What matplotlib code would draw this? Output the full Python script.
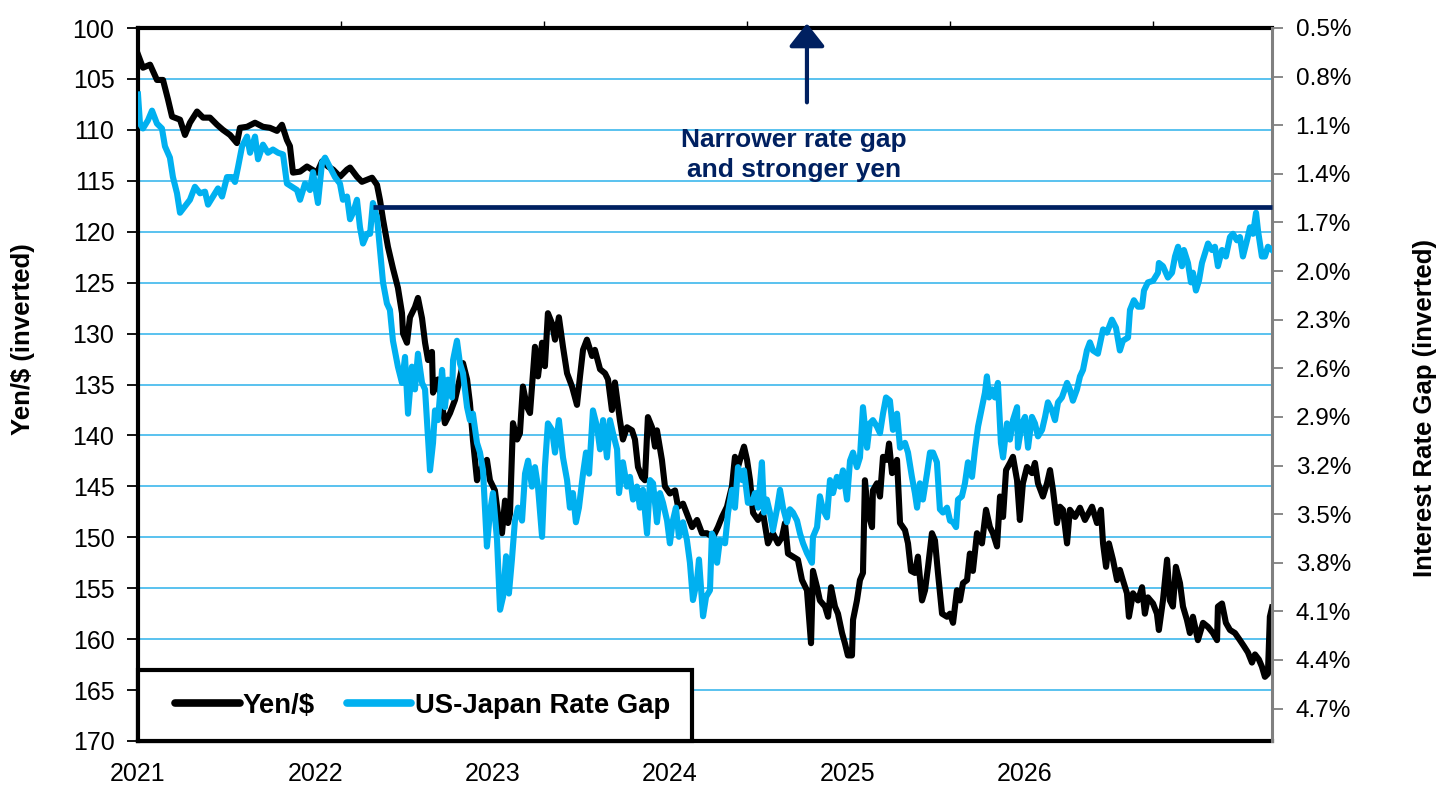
import numpy as np
import matplotlib
matplotlib.use('Agg')
import matplotlib.pyplot as plt
from matplotlib.ticker import FixedLocator, FuncFormatter
from matplotlib.lines import Line2D
from matplotlib.patches import Rectangle

plt.rcParams['font.family'] = ['Liberation Sans', 'DejaVu Sans']

# ---------------- data (decimal years) ----------------
yen_t = [2021.000, 2021.028, 2021.068, 2021.107, 2021.141, 2021.169, 2021.192, 2021.237, 2021.265, 2021.293,
         2021.333, 2021.367, 2021.406, 2021.446, 2021.479, 2021.519, 2021.558, 2021.575, 2021.615, 2021.660,
         2021.705, 2021.744, 2021.784, 2021.812, 2021.840, 2021.857, 2021.874, 2021.914, 2021.953, 2021.981,
         2022.010, 2022.038, 2022.072, 2022.100, 2022.139, 2022.179, 2022.196, 2022.235, 2022.263, 2022.292,
         2022.320, 2022.348, 2022.365, 2022.382, 2022.410, 2022.438, 2022.466, 2022.489, 2022.495, 2022.517,
         2022.534, 2022.562, 2022.579, 2022.602, 2022.619, 2022.636, 2022.658, 2022.664, 2022.692, 2022.731,
         2022.760, 2022.788, 2022.805, 2022.833, 2022.856, 2022.872, 2022.889, 2022.912, 2022.940, 2022.968,
         2022.985, 2023.013, 2023.030, 2023.053, 2023.070, 2023.087, 2023.098, 2023.115, 2023.138, 2023.154,
         2023.171, 2023.194, 2023.211, 2023.239, 2023.256, 2023.279, 2023.295, 2023.312, 2023.335, 2023.352,
         2023.374, 2023.397, 2023.420, 2023.448, 2023.476, 2023.493, 2023.510, 2023.532, 2023.561, 2023.577,
         2023.606, 2023.634, 2023.651, 2023.673, 2023.690, 2023.718, 2023.735, 2023.758, 2023.786, 2023.803,
         2023.820, 2023.843, 2023.859, 2023.876, 2023.899, 2023.916, 2023.927, 2023.955, 2023.972, 2024.000,
         2024.029, 2024.046, 2024.074, 2024.096, 2024.125, 2024.153, 2024.181, 2024.209, 2024.243, 2024.271,
         2024.294, 2024.322, 2024.350, 2024.367, 2024.384, 2024.407, 2024.418, 2024.435, 2024.452, 2024.469,
         2024.497, 2024.525, 2024.553, 2024.581, 2024.610, 2024.632, 2024.649, 2024.666, 2024.694, 2024.722,
         2024.745, 2024.773, 2024.796, 2024.807, 2024.830, 2024.846, 2024.875, 2024.892, 2024.909, 2024.931,
         2024.948, 2024.971, 2024.987, 2025.004, 2025.027, 2025.033, 2025.055, 2025.072, 2025.089, 2025.100,
         2025.117, 2025.140, 2025.145, 2025.168, 2025.185, 2025.202, 2025.224, 2025.236, 2025.253, 2025.281,
         2025.298, 2025.326, 2025.343, 2025.360, 2025.382, 2025.399, 2025.422, 2025.439, 2025.456, 2025.478,
         2025.495, 2025.512, 2025.535, 2025.563, 2025.580, 2025.597, 2025.619, 2025.636, 2025.653, 2025.676,
         2025.692, 2025.709, 2025.732, 2025.760, 2025.783, 2025.805, 2025.822, 2025.845, 2025.862, 2025.879,
         2025.896, 2025.918, 2025.935, 2025.958, 2025.974, 2025.991, 2026.014, 2026.042, 2026.059, 2026.076,
         2026.104, 2026.127, 2026.144, 2026.161, 2026.183, 2026.200, 2026.217, 2026.240, 2026.256, 2026.285,
         2026.313, 2026.341, 2026.381, 2026.409, 2026.431, 2026.443, 2026.460, 2026.476, 2026.499, 2026.522,
         2026.538, 2026.555, 2026.578, 2026.589, 2026.612, 2026.640, 2026.663, 2026.679, 2026.696, 2026.725,
         2026.747, 2026.758, 2026.781, 2026.804, 2026.820, 2026.837, 2026.854, 2026.877, 2026.894, 2026.916,
         2026.933, 2026.950, 2026.978, 2027.007, 2027.035, 2027.063, 2027.086, 2027.091, 2027.114, 2027.136,
         2027.159, 2027.187, 2027.215, 2027.238, 2027.260, 2027.283, 2027.300, 2027.322, 2027.339, 2027.356,
         2027.373, 2027.384, 2027.396]
yen_v = [102.6, 103.9, 103.6, 105.1, 105.1, 107.0, 108.7, 109.0, 110.5, 109.3,
         108.2, 108.8, 108.8, 109.5, 110.0, 110.5, 111.3, 109.8, 109.7, 109.3,
         109.7, 109.8, 110.1, 109.5, 111.0, 111.6, 114.2, 114.1, 113.6, 113.9,
         114.2, 113.1, 113.6, 113.9, 114.6, 113.9, 113.7, 114.6, 115.1, 114.9,
         114.7, 115.4, 116.9, 118.8, 121.5, 123.6, 125.5, 128.0, 130.0, 130.9,
         128.4, 127.4, 126.5, 128.5, 130.9, 132.6, 131.8, 135.8, 134.5, 138.8,
         137.8, 136.5, 135.2, 132.9, 134.5, 136.8, 140.4, 144.4, 143.1, 142.4,
         144.4, 145.4, 147.7, 149.6, 146.4, 148.6, 147.7, 138.8, 140.4, 139.8,
         135.2, 137.2, 137.8, 131.3, 134.2, 130.9, 133.2, 128.0, 129.0, 130.6,
         128.4, 131.3, 133.9, 135.2, 137.0, 134.2, 131.6, 130.6, 132.2, 131.6,
         133.5, 133.9, 134.5, 137.5, 134.8, 138.5, 140.4, 139.2, 139.5, 140.4,
         143.1, 144.1, 144.4, 138.2, 139.2, 141.1, 139.5, 142.4, 145.0, 145.7,
         145.4, 147.0, 146.7, 147.7, 149.0, 148.3, 149.6, 149.6, 150.0, 149.0,
         148.0, 147.0, 145.0, 142.1, 143.1, 141.7, 141.1, 142.4, 144.4, 147.6,
         148.3, 147.6, 150.6, 149.6, 150.6, 150.0, 148.6, 151.6, 151.9, 152.2,
         154.2, 155.2, 160.4, 153.3, 154.9, 156.2, 156.8, 157.8, 154.9, 156.8,
         157.5, 159.4, 160.4, 161.6, 161.6, 158.1, 156.2, 154.2, 153.5, 144.4,
         147.6, 149.0, 145.4, 144.7, 146.0, 142.1, 142.4, 140.8, 143.7, 142.4,
         148.6, 149.3, 150.6, 153.3, 153.5, 151.9, 156.2, 155.2, 152.9, 149.6,
         150.3, 153.5, 157.5, 157.8, 157.5, 158.4, 155.2, 156.2, 154.5, 154.2,
         151.6, 153.3, 149.6, 150.6, 147.3, 149.0, 149.6, 150.9, 146.0, 148.0,
         143.4, 142.7, 142.1, 144.4, 148.3, 144.7, 143.1, 143.7, 142.7, 144.7,
         146.0, 144.7, 143.4, 145.4, 148.6, 147.0, 147.3, 150.6, 147.3, 148.0,
         147.1, 148.3, 147.0, 148.6, 147.3, 150.6, 152.9, 150.6, 152.2, 154.2,
         153.2, 154.2, 155.5, 157.8, 155.5, 156.2, 154.9, 157.5, 155.9, 156.5,
         157.5, 159.1, 156.2, 152.2, 156.2, 156.8, 152.9, 154.5, 156.8, 158.1,
         159.4, 157.8, 160.1, 158.4, 158.8, 159.4, 160.1, 156.8, 156.5, 158.4,
         159.1, 159.4, 160.1, 160.7, 161.3, 162.3, 161.5, 162.0, 162.7, 163.7,
         163.4, 157.8, 156.9]

gap_t = [2021.000, 2021.011, 2021.028, 2021.056, 2021.079, 2021.107, 2021.135, 2021.152, 2021.180, 2021.197,
         2021.220, 2021.237, 2021.265, 2021.293, 2021.321, 2021.350, 2021.378, 2021.395, 2021.423, 2021.451,
         2021.474, 2021.502, 2021.530, 2021.547, 2021.564, 2021.587, 2021.615, 2021.632, 2021.660, 2021.677,
         2021.705, 2021.733, 2021.761, 2021.790, 2021.818, 2021.840, 2021.869, 2021.897, 2021.914, 2021.942,
         2021.970, 2021.987, 2022.015, 2022.038, 2022.055, 2022.083, 2022.111, 2022.139, 2022.156, 2022.179,
         2022.196, 2022.213, 2022.235, 2022.252, 2022.269, 2022.292, 2022.309, 2022.325, 2022.348, 2022.365,
         2022.382, 2022.404, 2022.421, 2022.438, 2022.466, 2022.489, 2022.506, 2022.523, 2022.545, 2022.562,
         2022.579, 2022.602, 2022.619, 2022.647, 2022.664, 2022.675, 2022.692, 2022.715, 2022.731, 2022.748,
         2022.771, 2022.777, 2022.799, 2022.816, 2022.833, 2022.856, 2022.872, 2022.889, 2022.912, 2022.929,
         2022.946, 2022.968, 2022.985, 2023.002, 2023.025, 2023.042, 2023.059, 2023.076, 2023.092, 2023.109,
         2023.126, 2023.143, 2023.166, 2023.183, 2023.200, 2023.222, 2023.239, 2023.256, 2023.279, 2023.295,
         2023.312, 2023.335, 2023.352, 2023.374, 2023.397, 2023.420, 2023.436, 2023.453, 2023.470, 2023.487,
         2023.510, 2023.527, 2023.544, 2023.566, 2023.589, 2023.606, 2023.623, 2023.645, 2023.662, 2023.679,
         2023.702, 2023.713, 2023.735, 2023.758, 2023.775, 2023.792, 2023.814, 2023.831, 2023.848, 2023.871,
         2023.888, 2023.905, 2023.927, 2023.944, 2023.961, 2023.984, 2024.000, 2024.017, 2024.034, 2024.051,
         2024.074, 2024.096, 2024.113, 2024.130, 2024.153, 2024.164, 2024.187, 2024.204, 2024.226, 2024.237,
         2024.254, 2024.266, 2024.282, 2024.311, 2024.328, 2024.350, 2024.367, 2024.384, 2024.407, 2024.418,
         2024.440, 2024.463, 2024.480, 2024.497, 2024.519, 2024.531, 2024.547, 2024.564, 2024.581, 2024.604,
         2024.621, 2024.638, 2024.660, 2024.677, 2024.694, 2024.717, 2024.734, 2024.751, 2024.773, 2024.801,
         2024.807, 2024.830, 2024.846, 2024.863, 2024.886, 2024.903, 2024.920, 2024.942, 2024.959, 2024.976,
         2024.999, 2025.016, 2025.033, 2025.055, 2025.072, 2025.089, 2025.112, 2025.128, 2025.145, 2025.168,
         2025.185, 2025.202, 2025.219, 2025.241, 2025.258, 2025.281, 2025.298, 2025.326, 2025.343, 2025.365,
         2025.382, 2025.394, 2025.410, 2025.427, 2025.450, 2025.467, 2025.484, 2025.506, 2025.523, 2025.540,
         2025.563, 2025.580, 2025.597, 2025.614, 2025.625, 2025.647, 2025.664, 2025.681, 2025.704, 2025.721,
         2025.738, 2025.760, 2025.777, 2025.788, 2025.800, 2025.817, 2025.833, 2025.850, 2025.867, 2025.879,
         2025.901, 2025.918, 2025.935, 2025.958, 2025.963, 2025.986, 2026.003, 2026.020, 2026.042, 2026.059,
         2026.076, 2026.099, 2026.116, 2026.132, 2026.155, 2026.172, 2026.189, 2026.211, 2026.240, 2026.256,
         2026.273, 2026.296, 2026.313, 2026.330, 2026.352, 2026.369, 2026.386, 2026.414, 2026.443, 2026.465,
         2026.493, 2026.516, 2026.538, 2026.555, 2026.584, 2026.595, 2026.617, 2026.640, 2026.663, 2026.674,
         2026.696, 2026.725, 2026.753, 2026.758, 2026.781, 2026.809, 2026.832, 2026.849, 2026.866, 2026.888,
         2026.899, 2026.922, 2026.939, 2026.950, 2026.967, 2026.984, 2027.001, 2027.018, 2027.035, 2027.057,
         2027.074, 2027.091, 2027.114, 2027.136, 2027.159, 2027.176, 2027.198, 2027.215, 2027.232, 2027.255,
         2027.272, 2027.289, 2027.306, 2027.317, 2027.339, 2027.356, 2027.373, 2027.396]
gap_v = [0.91, 1.09, 1.12, 1.07, 1.01, 1.09, 1.12, 1.23, 1.30, 1.42,
         1.52, 1.64, 1.60, 1.56, 1.48, 1.52, 1.51, 1.59, 1.54, 1.49,
         1.54, 1.42, 1.42, 1.45, 1.36, 1.23, 1.17, 1.27, 1.17, 1.31,
         1.22, 1.27, 1.25, 1.27, 1.28, 1.46, 1.48, 1.50, 1.56, 1.46,
         1.50, 1.39, 1.58, 1.33, 1.30, 1.36, 1.42, 1.46, 1.56, 1.54,
         1.68, 1.64, 1.56, 1.73, 1.83, 1.77, 1.77, 1.58, 1.67, 1.87,
         2.07, 2.20, 2.24, 2.43, 2.59, 2.69, 2.53, 2.88, 2.59, 2.73,
         2.51, 2.69, 2.73, 3.23, 3.06, 2.86, 2.92, 2.61, 2.84, 2.67,
         2.78, 2.55, 2.43, 2.57, 2.63, 2.84, 2.92, 2.88, 3.06, 3.12,
         3.23, 3.70, 3.49, 3.37, 3.66, 4.09, 4.01, 3.76, 3.99, 3.78,
         3.54, 3.46, 3.54, 3.25, 3.17, 3.33, 3.21, 3.33, 3.64, 3.21,
         2.94, 2.98, 3.12, 2.92, 3.15, 3.29, 3.46, 3.37, 3.55, 3.46,
         3.25, 3.12, 3.25, 2.86, 2.96, 3.10, 2.92, 3.15, 2.92, 3.00,
         3.10, 3.37, 3.18, 3.33, 3.27, 3.41, 3.33, 3.46, 3.35, 3.62,
         3.29, 3.31, 3.55, 3.37, 3.43, 3.54, 3.68, 3.54, 3.46, 3.64,
         3.55, 3.66, 3.80, 4.03, 3.91, 3.78, 4.13, 4.01, 3.97, 3.62,
         3.66, 3.80, 3.66, 3.68, 3.49, 3.35, 3.46, 3.21, 3.29, 3.23,
         3.43, 3.43, 3.37, 3.46, 3.18, 3.49, 3.41, 3.49, 3.60, 3.47,
         3.35, 3.46, 3.55, 3.47, 3.49, 3.54, 3.62, 3.68, 3.74, 3.80,
         3.64, 3.58, 3.39, 3.47, 3.52, 3.29, 3.37, 3.27, 3.33, 3.23,
         3.41, 3.17, 3.12, 3.21, 3.15, 2.84, 3.09, 2.94, 2.92, 2.96,
         3.00, 2.88, 2.78, 2.80, 2.98, 2.88, 3.09, 3.06, 3.12, 3.27,
         3.37, 3.46, 3.31, 3.41, 3.25, 3.12, 3.12, 3.18, 3.47, 3.49,
         3.46, 3.54, 3.55, 3.58, 3.41, 3.39, 3.31, 3.18, 3.27, 3.10,
         2.96, 2.84, 2.75, 2.65, 2.78, 2.73, 2.78, 2.69, 3.06, 3.15,
         2.94, 3.04, 2.92, 2.84, 3.09, 2.94, 2.90, 3.09, 2.90, 2.94,
         3.02, 2.98, 2.90, 2.81, 2.86, 2.92, 2.81, 2.78, 2.69, 2.73,
         2.80, 2.73, 2.65, 2.61, 2.49, 2.44, 2.49, 2.51, 2.36, 2.38,
         2.30, 2.35, 2.49, 2.43, 2.41, 2.24, 2.18, 2.22, 2.22, 2.12,
         2.07, 2.06, 2.01, 1.95, 1.97, 2.04, 2.01, 1.91, 1.85, 1.97,
         1.87, 1.95, 2.07, 2.01, 2.12, 2.06, 1.95, 1.89, 1.83, 1.87,
         1.85, 1.97, 1.87, 1.91, 1.79, 1.77, 1.81, 1.79, 1.91, 1.81,
         1.73, 1.77, 1.64, 1.75, 1.91, 1.91, 1.85, 1.87]

year_labels = ['2021', '2022', '2023', '2024', '2025', '2026']
year_ticks = [2021, 2022, 2023, 2024, 2025, 2026]
yen_ticks = list(range(100, 171, 5))
gap_ticks = [0.5, 0.8, 1.1, 1.4, 1.7, 2.0, 2.3, 2.6, 2.9, 3.2, 3.5, 3.8, 4.1, 4.4, 4.7]

annot_text = 'Narrower rate gap\nand stronger yen'
annot_level = 117.6          # yen level of the horizontal reference line
annot_start = 2022.325       # where the reference line starts
arrow_x = 2024.773

# ---------------- styling ----------------
BLACK = '#000000'
BLUE = '#00B0F0'
NAVY = '#002060'
GRID = '#3DB8EC'
GRAY = '#808080'

W, H = 1456, 810
AX_L, AX_R, AX_T, AX_B = 138, 1272, 28, 741
fig = plt.figure(figsize=(W / 100, H / 100), dpi=100)
ax = fig.add_axes([AX_L / W, 1 - AX_B / H, (AX_R - AX_L) / W, (AX_B - AX_T) / H])
ax2 = ax.twinx()

x_min, x_max = 2021.0, 2027.396
ax.set_xlim(x_min, x_max)
ax.set_ylim(170, 100)
ax2.set_ylim(4.9, 0.5)

# lines
l1, = ax.plot(yen_t, yen_v, color=BLACK, lw=4.4, solid_joinstyle='round', zorder=3)
l2, = ax2.plot(gap_t, gap_v, color=BLUE, lw=4.4, solid_joinstyle='round', zorder=3)

# grid
ax.set_yticks(yen_ticks)
ax.yaxis.grid(True, color=GRID, lw=1.2)
ax.set_axisbelow(True)

# x axis
ax.set_xticks(year_ticks)
ax.set_xticklabels(year_labels)
ax.tick_params(axis='x', which='major', length=0, pad=15, labelsize=18)
top_step = 203 / 177.3
ax.xaxis.set_minor_locator(FixedLocator(np.arange(x_min, x_max, top_step)))
ax.tick_params(axis='x', which='minor', bottom=False, top=True, direction='out',
               length=5, width=1, color=BLACK)

# left y axis
ax.tick_params(axis='y', which='major', direction='out', length=8, width=1.3,
               color=BLACK, pad=9, labelsize=18)

# right y axis
ax2.set_yticks(gap_ticks)
ax2.yaxis.set_major_formatter(FuncFormatter(lambda v, p: f'{v:.1f}%'))
ax2.tick_params(axis='y', which='major', direction='out', length=8, width=1.3,
                color=GRAY, pad=9, labelsize=17.5)

# spines
for s in ['left', 'top', 'bottom']:
    ax.spines[s].set_color(BLACK)
    ax.spines[s].set_linewidth(3)
    ax2.spines[s].set_visible(False)
ax.spines['right'].set_visible(False)
ax2.spines['right'].set_color(GRAY)
ax2.spines['right'].set_linewidth(2.2)

# axis titles
fig.text(23 / W, 1 - 339 / H, 'Yen/$ (inverted)', rotation=90, ha='center', va='center',
         fontsize=18.5, fontweight='bold')
fig.text(1425 / W, 1 - 408 / H, 'Interest Rate Gap (inverted)', rotation=90, ha='center',
         va='center', fontsize=18.5, fontweight='bold')

# reference line and annotation (drawn above both series)
ax2.plot([annot_start, x_max], [annot_level, annot_level], color=NAVY, lw=3.4,
         transform=ax.transData, zorder=5, clip_on=False, solid_capstyle='butt')
ax2.annotate('', xy=(arrow_x, 99.55), xytext=(arrow_x, 107.3), xycoords=ax.transData,
             textcoords=ax.transData, annotation_clip=False,
             arrowprops=dict(arrowstyle='-|>,head_length=0.7,head_width=0.55', color=NAVY,
                             lw=3, mutation_scale=20, shrinkA=0, shrinkB=0), zorder=6)
ax2.text(2024.70, 112.5, annot_text, transform=ax.transData, ha='center', va='center',
         fontsize=19, fontweight='bold', color=NAVY, linespacing=1.3, zorder=6)

# legend: framed box in the lower-left corner of the plot
AX_W, AX_H = AX_R - AX_L, AX_B - AX_T
box = Rectangle((0, 0), (692 - AX_L) / AX_W, (AX_B - 670) / AX_H, transform=ax2.transAxes,
                facecolor='white', edgecolor=BLACK, lw=3, zorder=9, clip_on=False)
ax2.add_patch(box)
h1 = Line2D([], [], color=BLACK, lw=5.5, solid_capstyle='round')
h2 = Line2D([], [], color=BLUE, lw=5.5, solid_capstyle='round')
leg = ax2.legend([h1, h2], ['Yen/$', 'US-Japan Rate Gap'], loc='center left',
                 bbox_to_anchor=((175 - AX_L) / AX_W, (AX_B - 706) / AX_H), ncol=2,
                 frameon=False, borderpad=0, handlelength=2.35, handletextpad=0.12,
                 columnspacing=1.15, borderaxespad=0,
                 prop={'weight': 'bold', 'size': 19.8})
leg.set_zorder(10)

fig.savefig('out.png', dpi=100, facecolor='white')
